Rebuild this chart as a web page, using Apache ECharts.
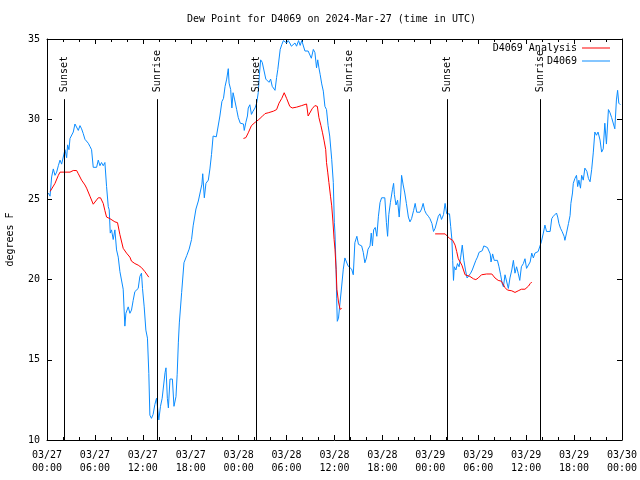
<!DOCTYPE html>
<html>
<head>
<meta charset="utf-8">
<script src="https://cdn.jsdelivr.net/npm/echarts@6/dist/echarts.min.js"></script>
<style>html,body{margin:0;padding:0;background:#fff}#c{width:640px;height:480px}</style>
</head>
<body>
<div id="c"></div>
<script>
// hours since 2024-03-27 00:00 UTC
var obsHours = [0.17,0.38,0.58,0.79,1.0,1.21,1.42,1.63,1.83,2.04,2.25,2.46,2.58,2.75,2.88,3.08,3.29,3.5,3.71,3.92,4.13,4.33,4.54,4.75,4.96,5.17,5.38,5.58,5.79,6.21,6.42,6.63,6.83,7.04,7.25,7.46,7.67,7.79,7.92,8.08,8.29,8.5,8.71,8.92,9.13,9.33,9.54,9.75,9.88,10.17,10.38,10.58,10.79,11.0,11.42,11.63,11.83,11.96,12.17,12.38,12.58,12.75,12.88,13.08,13.29,13.5,13.71,13.83,14.0,14.21,14.42,14.57,14.78,14.9,15.07,15.2,15.4,15.7,15.9,16.15,16.3,16.45,16.57,16.86,17.15,17.5,17.8,18.1,18.3,18.65,18.95,19.2,19.4,19.5,19.7,19.9,20.2,20.4,20.6,20.8,21.0,21.2,21.45,21.65,21.9,22.1,22.3,22.5,22.7,22.8,23.0,23.15,23.3,23.5,23.75,23.95,24.2,24.4,24.6,24.7,24.9,25.1,25.2,25.4,25.6,25.8,26.05,26.25,26.45,26.6,26.75,26.95,27.2,27.4,27.6,27.8,28.0,28.2,28.4,28.55,28.75,28.9,29.2,29.4,29.6,29.8,30.0,30.2,30.4,30.6,30.85,31.05,31.25,31.5,31.7,31.9,32.1,32.3,32.5,32.7,32.9,33.1,33.35,33.55,33.75,33.9,34.05,34.2,34.4,34.6,34.8,35.0,35.2,35.4,35.65,35.85,35.98,36.06,36.2,36.27,36.35,36.5,36.7,36.9,37.1,37.3,37.5,37.7,37.95,38.15,38.35,38.55,38.8,39.0,39.2,39.4,39.6,39.8,40.0,40.2,40.45,40.6,40.75,40.9,41.1,41.3,41.5,41.7,41.9,42.1,42.3,42.5,42.65,42.8,43.0,43.25,43.4,43.5,43.7,43.9,44.1,44.3,44.4,44.6,44.8,45.0,45.25,45.45,45.65,45.9,46.1,46.3,46.5,46.7,46.9,47.1,47.3,47.5,47.75,47.95,48.2,48.4,48.6,48.8,49.0,49.2,49.4,49.65,49.85,50.05,50.25,50.4,50.55,50.7,50.8,50.9,51.0,51.2,51.4,51.6,51.8,52.0,52.2,52.4,52.6,52.85,53.05,53.25,53.5,53.7,53.9,54.1,54.3,54.5,54.7,54.95,55.15,55.35,55.5,55.6,55.8,56.0,56.2,56.4,56.6,56.8,57.0,57.15,57.35,57.55,57.77,57.97,58.2,58.4,58.6,58.8,59.0,59.2,59.4,59.65,59.85,60.05,60.3,60.5,60.7,60.9,61.1,61.3,61.5,61.7,61.9,62.15,62.35,62.55,62.8,63.0,63.2,63.4,63.6,63.8,63.95,64.1,64.3,64.5,64.75,64.85,65.05,65.3,65.5,65.6,65.8,65.9,66.1,66.3,66.45,66.6,66.8,66.95,67.15,67.35,67.6,67.8,68.0,68.2,68.4,68.6,68.8,69.0,69.25,69.45,69.65,69.85,70.05,70.3,70.5,70.7,70.9,71.1,71.3,71.45,71.6,71.8];
var obsDewpt = [25.4,25.2,26.4,26.9,26.5,26.7,27.1,27.45,27.2,27.3,28.1,27.6,28.4,28.1,28.8,28.9,29.2,29.7,29.7,29.3,29.6,29.4,29.1,28.75,28.7,28.5,28.3,28.1,27.0,27.0,27.45,27.1,27.3,27.1,27.3,25.8,24.55,24.35,22.9,23.1,22.5,23.1,21.85,21.4,20.5,20.4,19.4,17.1,17.9,18.3,17.9,18.1,18.7,19.25,19.45,20.2,20.4,19.45,18.3,16.85,16.35,14.15,11.55,11.35,11.6,12.2,12.6,12.1,11.25,12.1,12.6,12.6,14.2,14.5,12.6,12.0,13.8,13.8,12.1,12.7,14.1,16.1,17.3,19.2,21.05,21.5,21.9,22.5,23.35,24.4,24.9,25.0,25.95,26.6,25.1,26.0,26.2,26.9,27.8,28.95,29.0,28.9,28.8,30.2,31.1,31.3,32.05,32.5,33.15,32.25,31.85,30.7,31.65,31.2,30.6,30.1,29.75,29.75,29.7,29.3,29.8,30.2,30.7,30.9,30.3,30.5,30.7,31.0,31.65,32.8,33.7,33.55,33.6,32.5,32.6,32.3,32.5,32.05,32.15,31.8,32.6,33.1,34.35,34.65,34.9,35.0,34.75,34.9,34.75,34.55,34.55,34.75,34.55,34.9,34.6,34.9,34.9,34.25,34.25,34.25,34.15,33.8,34.35,34.15,33.2,33.7,33.2,32.8,32.2,31.75,30.8,30.6,29.6,28.95,27.5,26.05,23.55,22.9,20.65,18.8,17.4,17.6,18.6,19.6,20.65,21.35,21.25,20.85,20.85,20.65,20.3,22.3,22.7,22.2,22.3,22.1,21.7,21.05,21.35,21.9,22.1,22.9,22.1,23.1,23.25,22.7,23.95,24.8,25.1,25.2,25.1,23.55,22.7,24.05,24.8,25.6,26.0,25.3,24.65,24.95,23.9,25.4,26.5,25.9,25.4,24.75,23.9,23.6,23.8,24.3,24.75,24.2,24.2,24.2,24.4,24.75,24.3,24.1,23.95,23.8,23.5,23.0,23.2,23.3,23.95,24.1,23.75,24.05,24.75,24.1,24.0,24.1,23.3,22.5,21.2,19.95,20.8,20.6,21.0,20.8,21.4,22.15,21.2,20.6,20.1,20.1,20.4,20.6,20.7,21.2,21.4,21.7,21.8,21.8,22.1,22.1,22.0,22.05,21.6,21.1,21.6,21.2,21.3,21.2,20.8,20.3,19.75,19.55,20.3,20.3,19.45,20.1,20.6,21.2,20.4,20.8,20.4,19.95,20.8,21.0,21.3,20.7,20.8,21.1,21.65,21.35,21.65,21.75,21.75,21.85,22.35,22.9,23.4,23.0,23.1,23.0,23.8,23.95,24.0,24.15,23.9,23.5,23.2,23.0,22.7,22.45,22.9,23.5,24.0,24.75,25.4,26.0,26.3,26.5,25.8,26.2,25.7,26.5,26.2,26.95,26.75,26.3,26.1,26.85,27.9,29.2,29.0,29.2,28.7,27.95,28.15,29.75,28.45,30.6,30.4,30.1,30.2,29.4,31.2,31.8,31.0,30.9];
// analysis: null marks a gap between analysis runs
var anaHours = [0.4,1.0,1.42,1.63,2.25,2.88,3.29,3.71,3.92,4.33,4.75,4.96,5.38,5.79,6.0,6.42,6.7,7.04,7.25,7.46,7.88,8.5,8.83,9.13,9.54,9.96,10.38,10.58,11.0,11.42,11.83,12.25,12.75,18,24.6,24.9,25.2,25.6,26.05,26.45,26.9,27.3,27.7,28.35,28.75,29.05,29.4,29.7,30.0,30.4,30.7,31.25,31.9,32.5,32.7,32.9,33.2,33.55,33.85,34.05,34.3,34.5,34.7,34.9,35.0,35.15,35.3,35.5,35.65,35.8,35.95,36.06,36.2,36.3,36.5,36.7,36.9,42,48.6,49.85,50.1,50.45,50.8,51.1,51.3,51.5,51.7,51.95,52.15,52.35,52.55,52.95,53.4,53.7,54.0,54.4,55.05,55.7,56.1,56.5,56.9,57.35,57.65,58.2,58.6,59.0,59.4,59.85,60.05,60.3,60.5,60.7];
var anaDewpt = [25.5,26.0,26.5,26.7,26.7,26.7,26.8,26.8,26.6,26.2,25.9,25.7,25.2,24.7,24.75,25.1,25.1,24.75,24.3,23.9,23.8,23.6,23.55,22.8,21.95,21.65,21.4,21.15,21.0,20.9,20.75,20.5,20.15,null,28.8,28.85,29.15,29.6,29.8,29.95,30.15,30.35,30.4,30.5,30.6,31.0,31.3,31.65,31.3,30.8,30.7,30.75,30.85,30.95,30.2,30.3,30.65,30.85,30.8,30.1,29.6,29.15,28.65,28.1,27.3,26.7,26.05,25.2,24.6,23.65,22.5,21.9,20.65,19.4,18.6,18.15,18.2,null,22.85,22.85,22.8,22.55,22.45,22.15,21.75,21.3,21.2,20.9,20.6,20.3,20.2,20.2,20.05,20.0,20.1,20.3,20.35,20.35,20.1,19.95,19.9,19.5,19.35,19.3,19.2,19.3,19.4,19.4,19.45,19.6,19.75,19.85];
var eventHours = [2.17, 13.8, 26.2, 37.85, 50.1, 61.77];
var eventNames = ['Sunset', 'Sunrise', 'Sunset', 'Sunrise', 'Sunset', 'Sunrise'];
var xTickHours = [0, 6, 12, 18, 24, 30, 36, 42, 48, 54, 60, 66, 72];
var yTicks = [10, 15, 20, 25, 30, 35];

var FONT = 'DejaVu Sans Mono';
function pair(xs, ys) { return xs.map(function (x, i) { return [x, ys[i] == null ? '-' : ys[i]]; }); }
function fmtX(h) {
  var d = 27 + Math.floor(h / 24);
  var hh = h % 24;
  return '03/' + (d < 10 ? '0' + d : d) + '\n' + (hh < 10 ? '0' + hh : hh) + ':00';
}
var yMin = yTicks[0], yMax = yTicks[yTicks.length - 1];
var lineTop = 31.25;
var ml = [];
eventHours.forEach(function (h, i) {
  ml.push([{ coord: [h, yMin] }, { coord: [h, lineTop] }]);
  ml.push([{ coord: [h, lineTop], lineStyle: { color: 'rgba(0,0,0,0)', width: 1 },
             label: { show: true, formatter: eventNames[i], position: 'insideStart', distance: 7,
                      fontFamily: FONT, fontSize: 10, color: '#000' } },
           { coord: [h, yMax] }]);
});

var axisCommonX = {
  type: 'value', min: xTickHours[0], max: xTickHours[xTickHours.length - 1], interval: 6,
  axisLine: { show: true, onZero: false, lineStyle: { color: '#000', width: 1 } },
  axisTick: { show: true, inside: true, length: 5, lineStyle: { color: '#000' } },
  minorTick: { show: true, splitNumber: 3, length: 3, lineStyle: { color: '#000' } },
  splitLine: { show: false }, minorSplitLine: { show: false }
};
var axisCommonY = {
  type: 'value', min: yMin, max: yMax, interval: 5,
  axisLine: { show: true, onZero: false, lineStyle: { color: '#000', width: 1 } },
  axisTick: { show: true, inside: true, length: 5, lineStyle: { color: '#000' } },
  splitLine: { show: false }
};
var legendCommon = { right: 30, align: 'right', orient: 'vertical', padding: 0,
  itemWidth: 28, itemHeight: 1, selectedMode: false, icon: 'rect',
  textStyle: { fontFamily: FONT, fontSize: 10, color: '#000' } };
var chart = echarts.init(document.getElementById('c'), null, { renderer: 'canvas' });
chart.setOption({
  animation: false,
  backgroundColor: '#fff',
  title: { text: 'Dew Point for D4069 on 2024-Mar-27 (time in UTC)', left: 187, top: 14, padding: 0,
           textStyle: { fontFamily: FONT, fontSize: 10, fontWeight: 'normal', color: '#000' } },
  grid: { left: 47, right: 18, top: 39, bottom: 40, containLabel: false, outerBoundsMode: 'none' },
  legend: [
    Object.assign({}, legendCommon, { data: ['D4069 Analysis'], top: 43 }),
    Object.assign({}, legendCommon, { data: ['D4069'], top: 56 })
  ],
  xAxis: [
    Object.assign({}, axisCommonX, { position: 'bottom',
      axisLabel: { show: true, margin: 9, formatter: fmtX, fontFamily: FONT, fontSize: 10, lineHeight: 13,
                   color: '#000', showMinLabel: true, showMaxLabel: true, hideOverlap: false } }),
    Object.assign({}, axisCommonX, { position: 'top', axisLabel: { show: false } })
  ],
  yAxis: [
    Object.assign({}, axisCommonY, { position: 'left', name: 'degrees F', nameLocation: 'middle', nameGap: 32,
      nameTextStyle: { fontFamily: FONT, fontSize: 10, color: '#000' },
      axisLabel: { show: true, margin: 7, fontFamily: FONT, fontSize: 10, color: '#000',
                   showMinLabel: true, showMaxLabel: true } }),
    Object.assign({}, axisCommonY, { position: 'right', axisLabel: { show: false } })
  ],
  series: [
    { name: 'D4069', type: 'line', data: pair(obsHours, obsDewpt), symbol: 'none', showSymbol: false,
      lineStyle: { color: '#0a8cff', width: 1 }, itemStyle: { color: '#0a8cff' }, z: 2, silent: true },
    { name: 'D4069 Analysis', type: 'line', data: pair(anaHours, anaDewpt), symbol: 'none', showSymbol: false,
      connectNulls: false, lineStyle: { color: '#ff0000', width: 1 }, itemStyle: { color: '#ff0000' }, z: 3, silent: true,
      markLine: { silent: true, symbol: ['none', 'none'], animation: false,
                  lineStyle: { color: '#000', width: 1, type: 'solid' },
                  label: { show: false }, emphasis: { disabled: true }, data: ml } }
  ]
});
</script>
</body>
</html>
